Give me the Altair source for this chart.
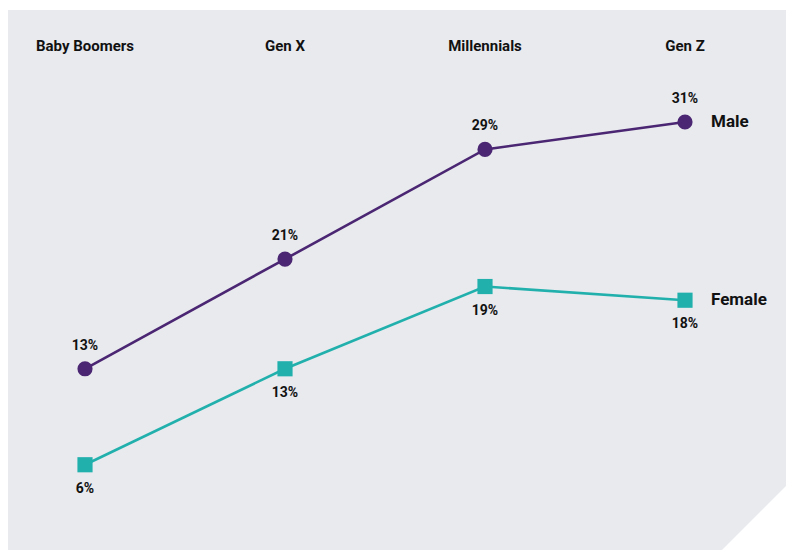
import altair as alt
import pandas as pd

generations = ["Baby Boomers", "Gen X", "Millennials", "Gen Z"]
male = [13, 21, 29, 31]
female = [6, 13, 19, 18]
series = ["Male", "Female"]
colors = ["#4b2672", "#22b0ad"]
shapes = ["circle", "square"]

rows = []
for s, vals in zip(series, [male, female]):
    for g, v in zip(generations, vals):
        rows.append({"generation": g, "value": v, "sex": s, "label": f"{v}%"})
df = pd.DataFrame(rows)
cats = pd.DataFrame({"generation": generations})
ends = pd.DataFrame({"generation": [generations[-1]] * 2, "value": [male[-1], female[-1]], "sex": series})
corner = pd.DataFrame({"k": [0]})

FONT = "Roboto"
x = alt.X("generation:N", scale=alt.Scale(type="point", domain=generations, range=[77, 677], padding=0), axis=None)
y = alt.Y("value:Q", scale=alt.Scale(domain=[0, 39.17], range=[537, 0]), axis=None)
color = alt.Color("sex:N", scale=alt.Scale(domain=series, range=colors), legend=None)
shape = alt.Shape("sex:N", scale=alt.Scale(domain=series, range=shapes), legend=None)

base = alt.Chart(df)
lines = base.mark_line(strokeWidth=2.6).encode(x=x, y=y, color=color, detail="sex:N")
points = base.mark_point(filled=True, opacity=1, size=230, strokeWidth=0).encode(x=x, y=y, color=color, shape=shape)
lab_m = base.transform_filter(alt.datum.sex == "Male").mark_text(
    dy=-23, font=FONT, fontWeight="bold", fontSize=14, color="#111111").encode(x=x, y=y, text="label:N")
lab_f = base.transform_filter(alt.datum.sex == "Female").mark_text(
    dy=24, font=FONT, fontWeight="bold", fontSize=14, color="#111111").encode(x=x, y=y, text="label:N")
cat_text = alt.Chart(cats).mark_text(font=FONT, fontWeight="bold", fontSize=15, color="#111111",
                                     baseline="middle").encode(x=x, y=alt.value(36), text="generation:N")
end_text = alt.Chart(ends).mark_text(font=FONT, fontWeight="bold", fontSize=17, color="#111111",
                                     align="left", baseline="middle", dx=26).encode(x=x, y=y, text="sex:N")
tri = alt.Chart(corner).mark_point(shape="M1,-1 L1,1 L-1,1 Z", filled=True, size=4400, color="white",
                                   opacity=1, strokeWidth=0).encode(x=alt.value(746.5), y=alt.value(507.5))

chart = alt.layer(lines, points, lab_m, lab_f, cat_text, end_text, tri).properties(
    width=778, height=540, background="white",
    padding={"left": 0, "top": 2, "right": 0, "bottom": 0},
    autosize=alt.AutoSizeParams(type="none"),
).configure_view(fill="#e8eaee", stroke=None)

chart.save("out.html", embed_options={"renderer": "svg", "actions": False})
